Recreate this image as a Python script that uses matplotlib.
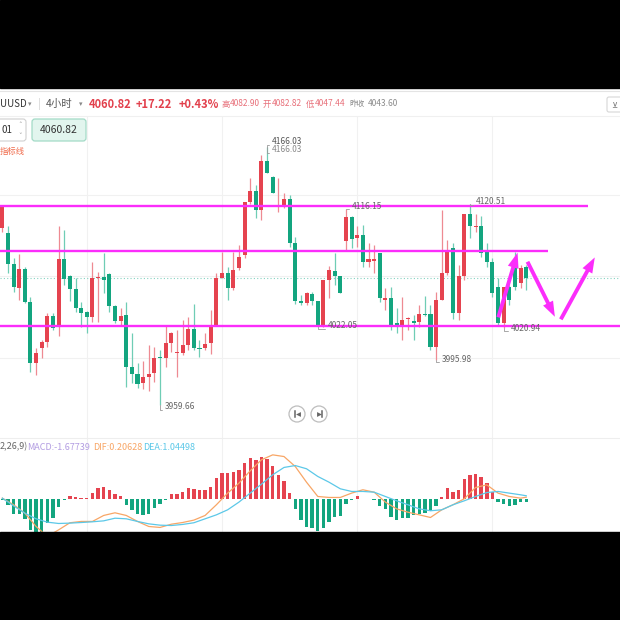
import matplotlib
matplotlib.use("Agg")
import matplotlib.pyplot as plt
from matplotlib.patches import Rectangle, FancyBboxPatch, Circle, FancyArrowPatch
import numpy as np

plt.rcParams["font.family"] = ["Noto Sans CJK SC", "DejaVu Sans"]

# ─────────────────────────────────────────────────────────────────────────────
# Data (4h candles)
# ─────────────────────────────────────────────────────────────────────────────
opens = [4101.2, 4097.4, 4072.4, 4053.0, 4068.2, 4042.2, 3993.0, 4005.0, 4010.2, 4030.8,
         4022.2, 4076.2, 4062.8, 4052.2, 4037.0, 4034.2, 4029.8, 4061.0, 4061.8, 4064.4,
         4038.8, 4027.0, 4031.6, 3989.8, 3984.4, 3977.4, 3982.2, 3985.0, 3997.8, 3997.0,
         4009.4, 4001.0, 4001.4, 4007.6, 4020.2, 4005.0, 4005.0, 4009.4, 4022.8, 4061.0,
         4065.4, 4053.0, 4069.0, 4079.6, 4122.2, 4131.2, 4115.6, 4155.0, 4142.2, 4117.8,
         4118.8, 4124.2, 4089.4, 4043.0, 4041.0, 4048.4, 4043.0, 4022.2, 4059.6, 4067.0,
         4062.8, 4091.0, 4109.8, 4093.0, 4095.6, 4074.2, 4075.0, 4081.4, 4043.6, 4045.0,
         4025.2, 4022.2, 4028.2, 4027.0, 4026.2, 4032.4, 4032.4, 4006.2, 4043.6, 4065.4,
         4085.0, 4032.9, 4062.8, 4112.4, 4101.8, 4102.8, 4082.2, 4074.2, 4054.2, 4025.4,
         4054.2, 4070.2, 4057.4, 4070.2]
highs = [4118.8, 4102.8, 4077.0, 4080.4, 4070.2, 4046.2, 4005.0, 4011.6, 4033.4, 4033.0,
         4102.8, 4099.6, 4063.6, 4061.0, 4042.2, 4035.0, 4074.2, 4066.2, 4081.0, 4065.0,
         4039.6, 4037.0, 4042.2, 4017.2, 3993.2, 3995.0, 4007.6, 4006.2, 4003.6, 4023.6,
         4018.2, 4019.6, 4027.6, 4030.2, 4040.4, 4011.6, 4017.0, 4035.6, 4065.2, 4082.2,
         4070.2, 4082.2, 4087.6, 4122.2, 4141.0, 4135.6, 4159.6, 4166.03, 4143.0, 4141.0,
         4129.0, 4127.6, 4094.2, 4047.6, 4050.2, 4050.0, 4043.0, 4059.6, 4070.8, 4081.0,
         4062.8, 4116.15, 4110.8, 4102.8, 4103.6, 4089.4, 4087.6, 4081.4, 4053.0, 4054.2,
         4037.0, 4046.2, 4030.0, 4031.6, 4039.6, 4046.8, 4039.6, 4050.2, 4115.6, 4091.6,
         4089.4, 4071.6, 4112.4, 4120.51, 4112.4, 4110.8, 4089.0, 4076.9, 4061.0, 4054.2,
         4055.6, 4082.2, 4071.6, 4071.6]
lows = [4098.0, 4065.0, 4049.8, 4043.6, 4041.0, 3986.2, 3983.6, 3997.0, 4006.2, 4019.6,
        4014.8, 4055.6, 4042.8, 4034.2, 4022.2, 4017.0, 4026.2, 4026.2, 4049.0, 4034.2,
        4025.4, 4023.6, 3973.8, 3977.2, 3973.0, 3972.2, 3971.0, 3978.2, 3959.66, 3990.2,
        4002.2, 3982.2, 3999.6, 4003.6, 4003.6, 3998.2, 4003.6, 4000.4, 4022.8, 4061.0,
        4043.6, 4051.6, 4067.6, 4077.0, 4120.4, 4109.4, 4107.6, 4145.4, 4129.0, 4114.2,
        4117.0, 4086.2, 4040.4, 4039.6, 4039.6, 4039.6, 4022.05, 4022.2, 4045.0, 4055.6,
        4049.0, 4083.6, 4085.0, 4086.0, 4070.2, 4069.8, 4065.0, 4042.2, 4035.6, 4019.6,
        4017.0, 4011.6, 4019.6, 4011.6, 4022.2, 4030.8, 4003.6, 3995.98, 4043.6, 4063.6,
        4028.2, 4027.6, 4060.0, 4093.0, 4098.2, 4078.2, 4070.2, 4046.2, 4023.6, 4020.94,
        4039.6, 4051.6, 4053.0, 4051.6]
closes = [4118.8, 4072.4, 4053.8, 4068.2, 4042.2, 3993.0, 4001.0, 4010.2, 4030.8, 4021.0,
          4076.2, 4060.2, 4052.4, 4037.0, 4033.0, 4029.8, 4061.0, 4061.8, 4059.6, 4038.8,
          4027.0, 4030.8, 3989.8, 3984.4, 3976.2, 3982.2, 3984.4, 3997.0, 3997.0, 4009.4,
          4017.0, 4002.2, 4007.6, 4020.2, 4005.0, 4004.2, 4008.2, 4022.2, 4061.0, 4065.4,
          4053.0, 4067.6, 4077.8, 4122.2, 4131.2, 4115.6, 4155.0, 4145.4, 4129.4, 4118.8,
          4124.2, 4089.0, 4043.0, 4041.0, 4049.0, 4043.0, 4022.2, 4059.6, 4067.6, 4062.8,
          4049.0, 4109.8, 4092.2, 4095.6, 4074.2, 4076.2, 4076.6, 4045.0, 4045.4, 4022.2,
          4022.2, 4027.6, 4029.4, 4025.4, 4032.4, 4031.4, 4006.2, 4043.6, 4065.4, 4083.6,
          4032.9, 4062.8, 4112.4, 4102.8, 4102.8, 4081.4, 4074.2, 4049.0, 4025.0, 4054.2,
          4043.6, 4054.2, 4069.0, 4060.82]

# MACD histogram (one per candle) and DIF / DEA sampled every other candle
macd_hist = [-0.5, -4.8, -11.7, -12.5, -16.4, -25.6, -29.0, -31.0, -20.0, -15.8,
             -6.1, -0.8, 2.8, 1.7, 1.4, 1.1, 5.6, 9.2, 10.8, 7.8,
             4.2, 2.8, -4.8, -8.9, -12.5, -13.1, -11.7, -7.5, -3.9, -0.4,
             4.2, 4.4, 6.4, 9.2, 8.6, 8.1, 8.1, 10.3, 17.5, 22.2,
             22.2, 22.5, 24.4, 30.0, 34.7, 32.5, 35.3, 33.6, 28.1, 20.3,
             15.3, 5.6, -8.3, -17.2, -22.8, -23.6, -26.4, -23.6, -18.6, -14.7,
             -13.9, -3.6, -0.4, 2.8, 0.8, 0.3, -0.3, -5.6, -8.3, -14.7,
             -16.7, -15.8, -15.3, -13.1, -11.9, -11.1, -9.7, -5.6, 1.9, 9.7,
             6.4, 8.1, 16.7, 20.3, 21.4, 18.6, 13.9, 6.1, -1.9, -3.6,
             -5.6, -4.2, -1.9, -1.68]
line_idx = list(range(1, 94, 2)) + [94]
dif = [1.1, -4.4, -11.4, -22.5, -30.8, -25.3, -19.4, -18.3, -18.3, -13.3,
       -11.1, -13.3, -18.3, -22.5, -23.3, -20.6, -19.2, -17.2, -13.3, -4.4,
       5.3, 13.6, 23.9, 33.1, 37.2, 35.8, 27.5, 14.4, 2.5, 1.7,
       1.7, 5.3, 8.1, 6.1, -2.2, -7.8, -10.6, -12.8, -15.0, -8.6,
       -4.4, 0.6, 10.0, 12.2, 5.3, 2.5, 1.1, 1.9]
dea = [1.1, -5.3, -11.4, -16.1, -18.9, -20.0, -19.7, -19.2, -18.6, -17.8,
       -15.6, -16.1, -18.3, -20.3, -21.4, -21.7, -20.8, -19.4, -16.1, -12.8,
       -8.6, -2.2, 5.3, 12.8, 20.6, 26.7, 28.3, 25.6, 19.2, 14.4,
       8.9, 6.7, 6.7, 6.1, 2.5, -1.1, -4.4, -7.8, -9.4, -8.6,
       -4.4, -1.1, 2.5, 5.8, 6.7, 5.3, 3.9, 3.1]

last_price = 4060.82
level_prices = [4118.8, 4083.1, 4022.8]      # hand-drawn magenta levels
level_ends = [104.9, 97.9, 111.0]            # candle index where each ends
arrows = [((88.9, 4027.6), (92.6, 4083.6)),
          ((94.0, 4076.2), (99.3, 4028.2)),
          ((99.9, 4026.2), (106.4, 4079.6))]
grid_idx = [16, 40, 64, 88]
grid_prices = [3997.5, 4062.5, 4127.5]

# (candle, price, label, dx px, dy px, colour)
extremes = [(48, 4166.03, "4166.03", 5, 5, "#555555"),
            (48, 4166.03, "4166.03", 5, -3, "#8a8a8a"),
            (62, 4116.15, "4116.15", 6, 3, "#666666"),
            (84, 4120.51, "4120.51", 6, 2, "#666666"),
            (57, 4022.05, "4022.05", 10, 1, "#666666"),
            (78, 3995.98, "3995.98", 6, 0, "#666666"),
            (90, 4020.94, "4020.94", 7, 0, "#666666"),
            (29, 3959.66, "3959.66", 5, -2, "#666666")]

UP, DOWN = "#e5434f", "#13a57f"
UP_WICK, DOWN_WICK = "#ee8a92", "#6fcdb5"
MAG = "#fb2dfb"
DIF_C, DEA_C = "#f8a666", "#5cc8e8"

# ─────────────────────────────────────────────────────────────────────────────
# Figure
# ─────────────────────────────────────────────────────────────────────────────
W = H = 620
fig = plt.figure(figsize=(6.2, 6.2), dpi=100)
fig.patch.set_facecolor("white")


def px_rect(top, bottom):
    return [0, 1 - bottom / H, 1, (bottom - top) / H]


XLIM = (0.592, 110.64)
ax = fig.add_axes(px_rect(116, 438))
axm = fig.add_axes(px_rect(438, 532))
for a in (ax, axm):
    a.set_xlim(*XLIM)
    a.set_xticks([])
    a.set_yticks([])
    for s in a.spines.values():
        s.set_visible(False)
    for g in grid_idx:
        a.axvline(g, color="#f1f1f1", lw=0.8, zorder=0)
ax.set_ylim(3933.2, 4190.8)
axm.set_ylim(-27.1, 51.25)
for g in grid_prices:
    ax.axhline(g, color="#f1f1f1", lw=0.8, zorder=0)

# ── candles ──────────────────────────────────────────────────────────────────
idx = np.arange(1, len(closes) + 1)
o, h, l, c = map(np.array, (opens, highs, lows, closes))
up = c >= o
ax.vlines(idx, l, h, colors=np.where(up, UP_WICK, DOWN_WICK), lw=0.9, zorder=3)
ax.bar(idx, np.maximum(np.abs(c - o), 0.9), bottom=np.minimum(o, c), width=0.72,
       color=np.where(up, UP, DOWN), lw=0, zorder=4)

ax.axhline(last_price, color="#86d3c1", lw=0.8, ls=(0, (1, 2)), zorder=2)

# ── hand-drawn levels & arrows ───────────────────────────────────────────────
for p, end in zip(level_prices, level_ends):
    ax.hlines(p, XLIM[0], end, color=MAG, lw=1.7, zorder=5)
for start, end in arrows:
    ax.add_patch(FancyArrowPatch(
        start, end, mutation_scale=10, color=MAG, lw=0, zorder=6,
        arrowstyle="simple,head_length=1.1,head_width=0.8,tail_width=0.28"))

# ── high / low labels ────────────────────────────────────────────────────────
for i, p, txt, dx, dy, col in extremes:
    ax.annotate(txt, xy=(i, p), xytext=(dx, dy), textcoords="offset pixels",
                ha="left", va="center", fontsize=6, color=col, zorder=7,
                arrowprops=dict(arrowstyle="-", color="#9a9a9a", lw=0.6,
                                shrinkA=0, shrinkB=0, relpos=(0, 0.2),
                                connectionstyle="angle,angleA=0,angleB=90,rad=0"))

# ── MACD pane ────────────────────────────────────────────────────────────────
hist = np.array(macd_hist)
axm.bar(idx, hist, width=0.6, color=np.where(hist >= 0, UP, DOWN), lw=0, zorder=3)
axm.plot(line_idx, dif, color=DIF_C, lw=0.9, zorder=4)
axm.plot(line_idx, dea, color=DEA_C, lw=0.9, zorder=4)

# ─────────────────────────────────────────────────────────────────────────────
# Screen chrome (pixel coordinates)
# ─────────────────────────────────────────────────────────────────────────────
ov = fig.add_axes([0, 0, 1, 1], zorder=10)
ov.set_xlim(0, W)
ov.set_ylim(H, 0)
ov.axis("off")
ov.patch.set_alpha(0)

ov.add_patch(Rectangle((0, 0), W, 88, color="black", zorder=20))
ov.add_patch(Rectangle((0, 532), W, 88, color="black", zorder=20))
ov.plot([0, W], [91, 91], color="#e4e4e4", lw=0.8)
ov.plot([0, W], [116, 116], color="#f0f0f0", lw=0.8)
ov.plot([0, W], [438, 438], color="#eeeeee", lw=0.8)

hy = 104
ov.text(0, hy, "UUSD", fontsize=7, color="#333333", va="center")
ov.text(28, hy, "▾", fontsize=5, color="#888888", va="center", family="DejaVu Sans")
ov.text(38, hy, "|", fontsize=7, color="#cccccc", va="center")
ov.text(46, hy, "4小时", fontsize=7.5, color="#555555", va="center")
ov.text(79, hy, "▾", fontsize=5, color="#888888", va="center", family="DejaVu Sans")
for x, t in [(89, "4060.82"), (136, "+17.22"), (179, "+0.43%")]:
    ov.text(x, hy, t, fontsize=8, color="#e2404c", weight="bold", va="center")
for x, t in [(221, "高"), (230, "4082.90"), (263, "开"), (272, "4082.82"),
             (306, "低"), (315, "4047.44")]:
    ov.text(x, hy, t, fontsize=6, color="#e8707a", va="center")
ov.text(349, hy, "昨收", fontsize=5.5, color="#8a8a8a", va="center")
ov.text(368, hy, "4043.60", fontsize=6, color="#8a8a8a", va="center")
ov.add_patch(FancyBboxPatch((607, 97), 16, 15, boxstyle="round,pad=0,rounding_size=2",
                            fc="white", ec="#d6d6d6", lw=0.8))
ov.text(611, 105, "⊻", fontsize=6, color="#777777", va="center", family="DejaVu Sans")

ov.add_patch(FancyBboxPatch((-3, 119), 29, 22, boxstyle="round,pad=0,rounding_size=3",
                            fc="white", ec="#d0d0d0", lw=0.8))
ov.text(1, 130, "01", fontsize=7, color="#333333", va="center")
ov.text(18, 125, "˄", fontsize=5, color="#999999", va="center", family="DejaVu Sans")
ov.text(18, 136, "˅", fontsize=5, color="#999999", va="center", family="DejaVu Sans")
ov.add_patch(FancyBboxPatch((32, 119), 54, 22, boxstyle="round,pad=0,rounding_size=3",
                            fc="#e2f5ee", ec="#a3dbc7", lw=0.9))
ov.text(59, 130, "4060.82", fontsize=7.5, color="#333333", va="center", ha="center")
ov.text(0, 151, "指标线", fontsize=6, color="#f06a4a", va="center")

for cx, side in [(297, -1), (319, 1)]:
    ov.add_patch(Circle((cx, 414), 8, fc="white", ec="#bdbdbd", lw=0.9))
    ov.plot([cx + 2.5 * side] * 2, [411, 417], color="#666666", lw=1.1)
    ov.plot(cx - 0.5 * side, 414, marker=">" if side > 0 else "<",
            ms=3.5, color="#666666", mew=0)

my = 447
ov.text(0, my, "2,26,9)", fontsize=6.5, color="#666666", va="center")
ov.text(27, my, "MACD:-1.67739", fontsize=6.5, color="#b39de2", va="center")
ov.text(93, my, "DIF:0.20628", fontsize=6.5, color=DIF_C, va="center")
ov.text(143, my, "DEA:1.04498", fontsize=6.5, color=DEA_C, va="center")

fig.savefig("out.png", dpi=100, facecolor="white")
